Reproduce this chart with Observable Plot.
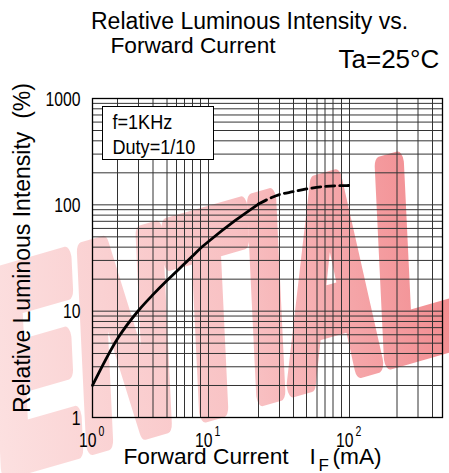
<!DOCTYPE html>
<html>
<head>
<meta charset="utf-8">
<script src="https://cdn.jsdelivr.net/npm/d3@7"></script>
<script src="https://cdn.jsdelivr.net/npm/@observablehq/plot@0.6"></script>
<style>
  body { margin: 0; background: #fff; }
  #chart { width: 449px; height: 473px; overflow: hidden; }
</style>
</head>
<body>
<div id="chart"></div>
<script>
// ---- data ----
const currentSolid   = [1, 2, 3, 4, 5, 6, 7, 8, 9, 10, 14.5, 20];          // mA
const intensitySolid = [2.0, 5.5, 10.15, 14.3, 19.4, 23.6, 27.9, 33.0, 39.1, 45.2, 71.3, 101.8]; // %
const currentDashed   = [20, 30, 40, 50, 70, 100];
const intensityDashed = [101.8, 125, 133, 141, 149, 152];

const xGrid = [2, 3, 4, 5, 6, 7, 8, 9, 10, 20, 30, 40, 50, 60, 70, 80, 90, 100, 200, 300, 400];
const yGrid = [2, 3, 4, 5, 6, 7, 8, 9, 10, 20, 30, 40, 50, 60, 70, 80, 90, 100, 200, 300, 400, 500, 600, 700, 800, 900];

const xTickValues = [1, 10, 100];
const xTickBase = ["10", "10", "10"];
const xTickExp = ["0", "1", "2"];
const yTickValues = [1, 10, 100, 1000];
const yTickLabels = ["1", "10", "100", "1000"];

const titleLines = ["Relative Luminous Intensity vs.", "Forward Current"];
const conditionText = "Ta=25°C";
const legendLines = ["f=1KHz", "Duty=1/10"];
const yLabel = "Relative Luminous Intensity  (%)";
const xLabelParts = ["Forward Current", "I", "F", "(mA)"];
const watermarkText = "ENTIAL";

// the hand-drawn log grid of the original is uneven: piecewise-log x scale
const xBreaks = [1, 2, 3, 4, 5, 6, 7, 8, 9, 10, 20, 30, 40, 50, 60, 70, 80, 90, 100, 200, 300, 400, 450];
const xBreakPx = [92, 117, 138, 152.5, 166.5, 176, 184, 192, 200, 208, 258, 279, 293, 306, 316.5, 324.5, 332.5, 341, 349, 396.5, 417.5, 432, 442];

const solid = currentSolid.map((c, i) => ({c, v: intensitySolid[i]}));
const dashed = currentDashed.map((c, i) => ({c, v: intensityDashed[i]}));

const sans = "Liberation Sans, Arial, Helvetica, sans-serif";

const svg = Plot.plot({
  width: 449,
  height: 473,
  marginLeft: 92,
  marginRight: 7,
  marginTop: 98,
  marginBottom: 56,
  style: {background: "#fff", overflow: "visible"},
  x: {type: "log", domain: xBreaks, range: xBreakPx, axis: null},
  y: {type: "log", domain: [1, 1000], axis: null},
  marks: [
    // watermark
    Plot.text([watermarkText], {text: d => d, frameAnchor: "middle", fontSize: 270, fontWeight: "bold",
      fontStyle: "italic", fontFamily: sans, fill: "#f4a0a3", textAnchor: "middle", lineAnchor: "middle"}),
    // grid
    Plot.ruleX(xGrid, {x: d => d, stroke: "#333", strokeWidth: 1}),
    Plot.ruleY(yGrid, {y: d => d, stroke: "#333", strokeWidth: 1}),
    Plot.frame({stroke: "#000", strokeWidth: 1.3}),
    // legend box
    Plot.frame({fill: "#fff", stroke: "#000", strokeWidth: 1, insetLeft: 10, insetTop: 8, insetRight: 229, insetBottom: 258}),
    Plot.text([legendLines[0]], {text: d => d, frameAnchor: "top-left", dx: 20, dy: 30, textAnchor: "start", lineAnchor: "bottom", fontFamily: sans, fontSize: 21, fill: "#000"}),
    Plot.text([legendLines[1]], {text: d => d, frameAnchor: "top-left", dx: 20, dy: 55, textAnchor: "start", lineAnchor: "bottom", fontFamily: sans, fontSize: 21, fill: "#000"}),
    // curve
    Plot.line(solid, {x: "c", y: "v", stroke: "#000", strokeWidth: 2.8, curve: "monotone-x"}),
    Plot.line(dashed, {x: "c", y: "v", stroke: "#000", strokeWidth: 2.8, curve: "monotone-x", strokeDasharray: "9,5"}),
    // y tick labels
    Plot.text(yTickValues, {y: d => d, text: (d, i) => yTickLabels[i], frameAnchor: "left", dx: -12, dy: 7, textAnchor: "end", lineAnchor: "bottom", fontFamily: sans, fontSize: 21, fill: "#000"}),
    // x tick labels
    Plot.text(xTickValues, {x: d => d, text: (d, i) => xTickBase[i], frameAnchor: "bottom", dx: 4, dy: 29, textAnchor: "end", lineAnchor: "bottom", fontFamily: sans, fontSize: 21, fill: "#000"}),
    Plot.text(xTickValues, {x: d => d, text: (d, i) => xTickExp[i], frameAnchor: "bottom", dx: 6, dy: 18, textAnchor: "start", lineAnchor: "bottom", fontFamily: sans, fontSize: 14, fill: "#000"}),
    // axis labels
    Plot.text([yLabel], {text: d => d, frameAnchor: "left", rotate: -90, dx: -63, dy: -10, textAnchor: "middle", lineAnchor: "bottom", fontFamily: sans, fontSize: 23, fill: "#000"}),
    Plot.text([xLabelParts[0]], {text: d => d, frameAnchor: "bottom-left", dx: 31, dy: 46, textAnchor: "start", lineAnchor: "bottom", fontFamily: sans, fontSize: 22.7, fill: "#000"}),
    Plot.text([xLabelParts[1]], {text: d => d, frameAnchor: "bottom-left", dx: 217, dy: 46, textAnchor: "start", lineAnchor: "bottom", fontFamily: sans, fontSize: 22.7, fill: "#000"}),
    Plot.text([xLabelParts[2]], {text: d => d, frameAnchor: "bottom-left", dx: 226, dy: 53, textAnchor: "start", lineAnchor: "bottom", fontFamily: sans, fontSize: 17, fill: "#000"}),
    Plot.text([xLabelParts[3]], {text: d => d, frameAnchor: "bottom-left", dx: 240, dy: 46, textAnchor: "start", lineAnchor: "bottom", fontFamily: sans, fontSize: 22.7, fill: "#000"}),
    // title
    Plot.text([titleLines[0]], {text: d => d, frameAnchor: "top-left", dx: 157, dy: -70, textAnchor: "middle", lineAnchor: "bottom", fontFamily: sans, fontSize: 23, fill: "#000"}),
    Plot.text([titleLines[1]], {text: d => d, frameAnchor: "top-left", dx: 100.5, dy: -46, textAnchor: "middle", lineAnchor: "bottom", fontFamily: sans, fontSize: 22.7, fill: "#000"}),
    Plot.text([conditionText], {text: d => d, frameAnchor: "top-left", dx: 246, dy: -31, textAnchor: "start", lineAnchor: "bottom", fontFamily: sans, fontSize: 26, fill: "#000"})
  ]
});

document.getElementById("chart").appendChild(svg);

// ---- post-processing: watermark look, condensed tick/legend font ----
const sel = d3.select(svg);
const grad = sel.insert("defs", ":first-child").append("linearGradient").attr("id", "wmgrad");
grad.append("stop").attr("offset", "0%").attr("stop-color", "rgb(252,224,224)");
grad.append("stop").attr("offset", "55%").attr("stop-color", "rgb(248,192,194)");
grad.append("stop").attr("offset", "100%").attr("stop-color", "rgb(242,138,142)");
sel.selectAll("text").each(function () {
  const t = this.textContent;
  if (t === watermarkText) {
    d3.select(this).attr("fill", "url(#wmgrad)").attr("stroke", "url(#wmgrad)")
      .attr("stroke-width", 22).attr("stroke-linejoin", "round");
    const len = this.getComputedTextLength();
    const g = this.parentNode;
    const cur = g.getAttribute("transform") || "";
    const sx = 480 / len;
    g.setAttribute("transform", `translate(222,316) rotate(-16) skewX(-8) scale(${sx.toFixed(3)},1) translate(-267,-257.5) ` + cur);
  }
});
const tickSet = new Set([...yTickLabels, ...xTickBase, ...xTickExp]);
sel.selectAll("text").each(function () {
  const t = this.textContent;
  let f = null;
  if (legendLines.includes(t)) f = 0.86;
  else if (tickSet.has(t) && this.closest("g").getAttribute("font-size") !== "22.7") f = 0.75;
  if (f && !xLabelParts.includes(t)) {
    const len = this.getComputedTextLength();
    this.setAttribute("textLength", (len * f).toFixed(2));
    this.setAttribute("lengthAdjust", "spacingAndGlyphs");
  }
});
</script>
</body>
</html>
